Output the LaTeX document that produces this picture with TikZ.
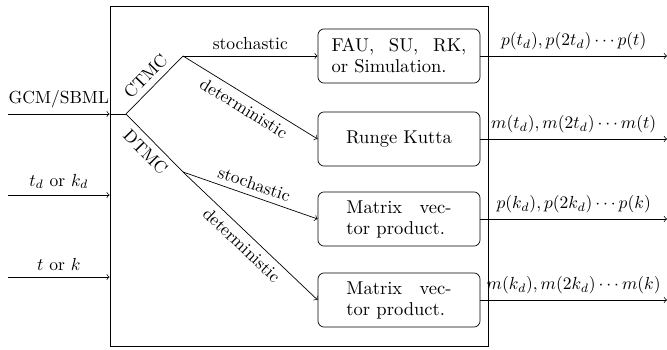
\documentclass[tikz,border=0pt]{standalone}
\usetikzlibrary{calc}
\begin{document}
\begin{tikzpicture}[x=0.5714pt,y=-0.5714pt,
  proc/.style={draw, rounded corners=3.5pt, minimum width=92.6pt, minimum height=30.9pt, inner sep=0pt, font=\fontsize{10.6}{12}\selectfont},
  frame/.style={draw, minimum width=216pt, minimum height=194.3pt, inner sep=0pt},
  arr/.style={->}]
\useasboundingbox (0,0) rectangle (667,350);
\node[frame] (main) at (299,176) {};
\node[proc, text width=77pt, align=left] (b1) at (399,56) {FAU,\hfill SU,\hfill RK,\\or Simulation.};
\node[proc, align=center] (b2) at (399,139) {Runge Kutta};
\node[proc, text width=60pt, align=left] (b3) at (399,219) {Matrix\hfill vec-\\tor product.};
\node[proc, text width=60pt, align=left] (b4) at (399,300) {Matrix\hfill vec-\\tor product.};
% inputs
\coordinate (i1) at (8,114);
\coordinate (i2) at (8,195);
\coordinate (i3) at (8,277);
\coordinate (j) at (126,114);
\coordinate (c) at (183,56);
\coordinate (d) at (183,172);
\coordinate (o) at (667,0);
\draw[arr] (i1) -- node[above] {GCM/SBML} (i1 -| main.west);
\draw[arr] (i2) -- node[above] {$t_d$ or $k_d$} (i2 -| main.west);
\draw[arr] (i3) -- node[above] {$t$ or $k$} (i3 -| main.west);
\draw (i1 -| main.west) -- (j);
\draw (j) -- node[above, sloped] {CTMC} (c);
\draw (j) -- node[below, sloped] {DTMC} (d);
\draw[arr] (c) -- node[above] {stochastic} (b1.west);
\draw[arr] (c) -- node[below, sloped] {deterministic} (b2.west);
\draw[arr] (d) -- node[above, sloped] {stochastic} (b3.west);
\draw[arr] (d) -- node[below, sloped] {deterministic} (b4.west);
% outputs
\draw[arr] (b1.east) -- node[above] {$p(t_d),p(2t_d)\cdots p(t)$} (b1.east -| o);
\draw[arr] (b2.east) -- node[above] {$m(t_d),m(2t_d)\cdots m(t)$} (b2.east -| o);
\draw[arr] (b3.east) -- node[above] {$p(k_d),p(2k_d)\cdots p(k)$} (b3.east -| o);
\draw[arr] (b4.east) -- node[above] {$m(k_d),m(2k_d)\cdots m(k)$} (b4.east -| o);
\end{tikzpicture}
\end{document}
